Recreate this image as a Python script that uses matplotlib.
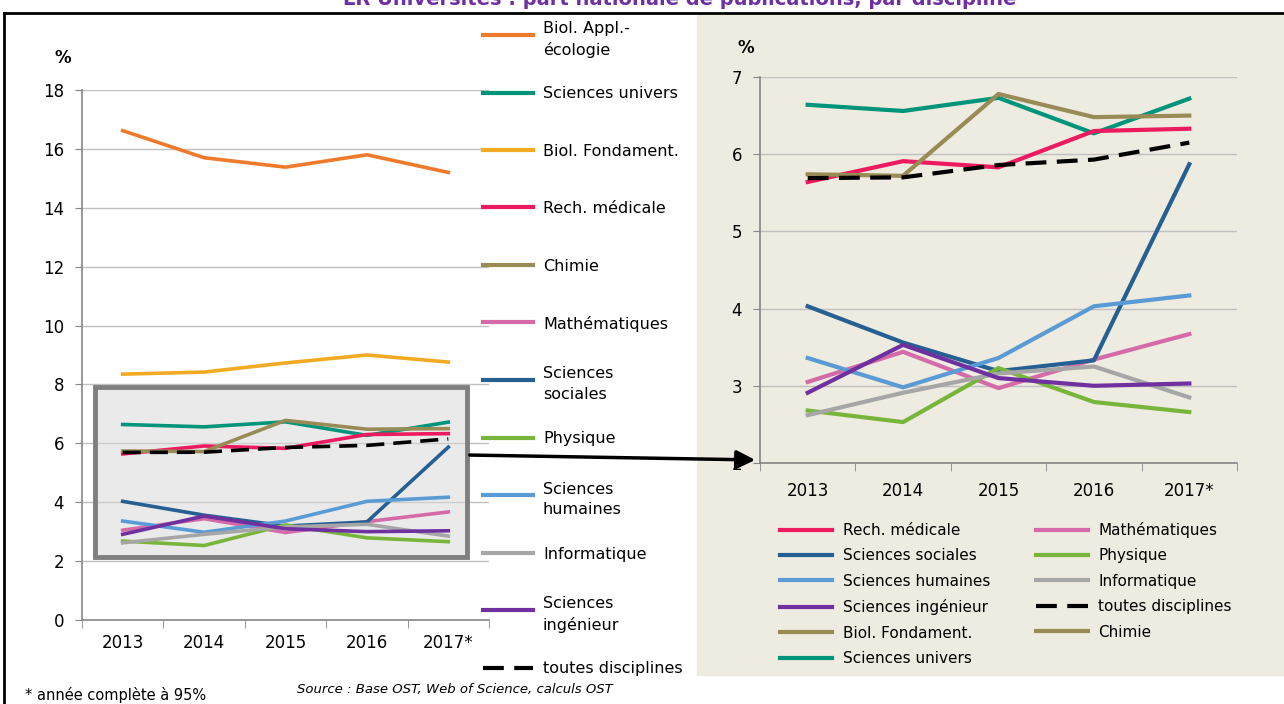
# Part nationale de publications par discipline (LR Universités)

import numpy as np
import matplotlib.pyplot as plt
from matplotlib.lines import Line2D
from matplotlib.patches import Rectangle, FancyArrowPatch

plt.rcParams['font.family'] = ['DejaVu Sans']

# Données (en %)
annees = ['2013', '2014', '2015', '2016', '2017*']
biol_appl = [16.62, 15.70, 15.38, 15.80, 15.20]
sciences_univers = [6.64, 6.56, 6.73, 6.27, 6.72]
biol_fondament = [8.35, 8.42, 8.73, 9.00, 8.76]
rech_medicale = [5.64, 5.91, 5.83, 6.30, 6.33]
chimie = [5.74, 5.72, 6.78, 6.48, 6.50]
mathematiques = [3.05, 3.44, 2.97, 3.34, 3.67]
sciences_sociales = [4.03, 3.56, 3.19, 3.33, 5.87]
physique = [2.68, 2.53, 3.23, 2.79, 2.66]
sciences_humaines = [3.36, 2.98, 3.36, 4.03, 4.17]
informatique = [2.62, 2.91, 3.16, 3.25, 2.85]
sciences_ingenieur = [2.91, 3.53, 3.10, 3.00, 3.03]
toutes_disciplines = [5.69, 5.70, 5.86, 5.93, 6.15]

# (libellé légende gauche, valeurs, couleur)
series = [
    ('Biol. Appl.-\nécologie', biol_appl, '#F07A2B'),
    ('Sciences univers', sciences_univers, '#00957A'),
    ('Biol. Fondament.', biol_fondament, '#F2AA22'),
    ('Rech. médicale', rech_medicale, '#EC1A5E'),
    ('Chimie', chimie, '#988B56'),
    ('Mathématiques', mathematiques, '#D46BA8'),
    ('Sciences\nsociales', sciences_sociales, '#265F92'),
    ('Physique', physique, '#78B53B'),
    ('Sciences\nhumaines', sciences_humaines, '#5A9BD5'),
    ('Informatique', informatique, '#A6A6A6'),
    ('Sciences\ningénieur', sciences_ingenieur, '#7030A0'),
    ('toutes disciplines', toutes_disciplines, 'black'),
]

# Légende du graphique de droite (libellé, indice de la couleur dans series)
legende_droite = [
    ('Rech. médicale', 3), ('Sciences sociales', 6), ('Sciences humaines', 8),
    ('Sciences ingénieur', 10), ('Biol. Fondament.', 4), ('Sciences univers', 1),
    ('Mathématiques', 5), ('Physique', 7), ('Informatique', 9),
    ('toutes disciplines', 11), ('Chimie', 4),
]

W, H = 1284, 704
GRIS = '#868686'
TIRETS = (0, (5, 2.5))


def style_axes(ax, ymin, ymax, pas, pad_x):
    x = np.arange(len(annees))
    ax.set_xlim(-0.5, len(annees) - 0.5)
    ax.set_ylim(ymin, ymax)
    ax.set_yticks(np.arange(ymin, ymax + 0.1, pas))
    ax.set_xticks(x)
    ax.set_xticklabels(annees, fontsize=12)
    ax.set_xticks(np.arange(-0.5, len(annees)), minor=True)
    ax.tick_params(axis='x', which='major', length=0, pad=pad_x)
    ax.tick_params(axis='x', which='minor', length=6, color=GRIS)
    ax.tick_params(axis='y', length=5, color=GRIS, labelsize=12, pad=8)
    ax.grid(axis='y', color='#C0C0C0', lw=1)
    ax.set_axisbelow(True)
    for s in ['top', 'right']:
        ax.spines[s].set_visible(False)
    for s in ['left', 'bottom']:
        ax.spines[s].set_color(GRIS)
        ax.spines[s].set_linewidth(1.2)
    ax.set_facecolor('none')


fig = plt.figure(figsize=(W / 100, H / 100), dpi=100)

# Fond beige du panneau de droite et cadre
fig.add_artist(Rectangle((697 / W, 1 - 675 / H), 1 - 697 / W, (675 - 15) / H,
                         transform=fig.transFigure, color='#EEEBE1', zorder=-1))
fig.add_artist(Line2D([4 / W, 1], [1 - 12.5 / H] * 2, color='black', lw=2))
fig.add_artist(Line2D([4 / W] * 2, [0, 1 - 12.5 / H], color='black', lw=2))

ax1 = fig.add_axes([82 / W, 1 - 620 / H, (489 - 82) / W, (620 - 90) / H])
ax2 = fig.add_axes([760 / W, 1 - 463 / H, (1237 - 760) / W, (463 - 77) / H])

x = np.arange(len(annees))

# Graphique de gauche
style_axes(ax1, 0, 18, 2, 10)
ax1.add_patch(Rectangle((-0.34, 2.14), 4.57, 5.77, facecolor='#D9D9D9', alpha=0.55,
                        edgecolor='none', zorder=1.5))
for nom, val, col in series:
    ls = TIRETS if col == 'black' else '-'
    ax1.plot(x, val, color=col, lw=2.6, ls=ls, dash_capstyle='butt', zorder=2)
ax1.add_patch(Rectangle((-0.34, 2.14), 4.57, 5.77, facecolor='none',
                        edgecolor='#7F7F7F', lw=3.5, zorder=3))

# Graphique de droite (zoom)
style_axes(ax2, 2, 7, 1, 14)
for nom, val, col in series:
    ls = TIRETS if col == 'black' else '-'
    ax2.plot(x, val, color=col, lw=3, ls=ls, dash_capstyle='butt')

poignees = []
for nom, i in legende_droite:
    col = series[i][2]
    ls = TIRETS if col == 'black' else '-'
    poignees.append(Line2D([], [], color=col, lw=3, ls=ls, dash_capstyle='butt'))
ax2.legend(poignees, [n for n, i in legende_droite], ncol=2, loc='upper left',
           bbox_to_anchor=(780 / W, 1 - 522 / H), bbox_transform=fig.transFigure,
           frameon=False, fontsize=11, handlelength=3.4, handletextpad=0.7,
           labelspacing=0.68, columnspacing=3.0, borderpad=0, borderaxespad=0)

# Légende de gauche
for i, (nom, val, col) in enumerate(series):
    yy = 1 - (35 + i * 57.5) / H
    ls = TIRETS if col == 'black' else '-'
    fig.add_artist(Line2D([483 / W, 533 / W], [yy, yy], color=col, lw=3, ls=ls,
                          dash_capstyle='butt'))
    fig.text(543 / W, yy, nom, fontsize=11.5, va='center_baseline', linespacing=1.45)

# Flèche entre les deux graphiques
fig.add_artist(FancyArrowPatch(
    (467 / W, 1 - 455 / H), (758 / W, 1 - 460 / H), transform=fig.transFigure,
    arrowstyle='-|>', mutation_scale=28, lw=2.5, color='black'))

# Textes
fig.text(0.529, 1 - 5 / H, 'LR Universités : part nationale de publications, par discipline',
         ha='center', va='baseline', color='#7030A0', fontweight='bold', fontsize=14)
fig.text(63 / W, 1 - 58 / H, '%', fontsize=12, fontweight='bold', ha='center', va='center')
fig.text(746 / W, 1 - 48 / H, '%', fontsize=12, fontweight='bold', ha='center', va='center')
fig.text(25 / W, 1 - 695 / H, '* année complète à 95%', fontsize=10.5, va='center')
fig.text(297 / W, 1 - 690 / H, 'Source : Base OST, Web of Science, calculs OST',
         fontsize=9.5, style='italic', va='center')

fig.savefig('out.png', dpi=100)
